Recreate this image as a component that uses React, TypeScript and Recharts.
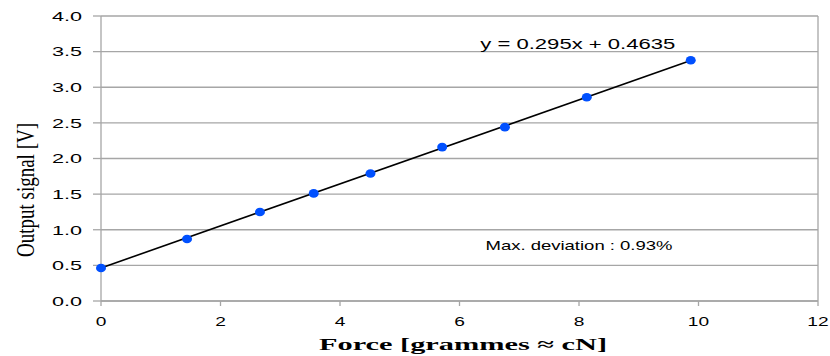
import { ScatterChart, Scatter, XAxis, YAxis, CartesianGrid, ReferenceLine, Label } from "recharts";

// measured force (grammes) and sensor output (V)
const force = [0, 1.44, 2.66, 3.56, 4.51, 5.71, 6.76, 8.13, 9.87];
const output = [0.463, 0.87, 1.25, 1.51, 1.79, 2.16, 2.44, 2.86, 3.38];

const xTicks = [0, 2, 4, 6, 8, 10, 12];
const yTicks = [0, 0.5, 1, 1.5, 2, 2.5, 3, 3.5, 4];

// linear trendline as printed on the chart
const slope = 0.295;
const intercept = 0.4635;

const points = force.map((f, i) => ({ x: f, y: output[i] }));
const xFirst = force[0];
const xLast = force[force.length - 1];

const sans = "Liberation Sans, Arial, sans-serif";
const serif = "Liberation Serif, Times New Roman, serif";

// the source picture is stretched sideways, so text is widened a bit
const WideTick = ({ x, y, payload, anchor, fmt, sx }: any) => (
  <g transform={`translate(${x},${y}) scale(${sx},1)`}>
    <text x={0} y={0} dy={anchor === "end" ? "0.36em" : "0.71em"} textAnchor={anchor} fontFamily={sans} fontSize={13.5} fill="#000">
      {fmt ? fmt(payload.value) : payload.value}
    </text>
  </g>
);

const WideLabel = ({ viewBox, text, width, size }: any) => {
  const cx = viewBox.x + viewBox.width / 2;
  const cy = viewBox.y + viewBox.height / 2;
  return (
    <text x={cx} y={cy} dy="0.35em" textAnchor="middle" textLength={width} lengthAdjust="spacingAndGlyphs" fontFamily={sans} fontSize={size} fill="#000">
      {text}
    </text>
  );
};

export default function App() {
  return (
    <div style={{ position: "absolute", left: 0, top: 0, background: "#fff" }}>
      <ScatterChart width={830} height={356} margin={{ top: 16, right: 12, bottom: 0, left: 0 }}>
        <CartesianGrid vertical={false} stroke="#a6a6a6" strokeWidth={1.3} />
        <XAxis
          type="number"
          dataKey="x"
          domain={[0, 12]}
          ticks={xTicks}
          height={55}
          stroke="#a6a6a6"
          strokeWidth={1.3}
          tickSize={5}
          tickMargin={10}
          tick={<WideTick anchor="middle" sx={1.42} />}
        >
          <Label
            content={() => (
              <text
                x={463}
                y={350}
                textAnchor="middle"
                textLength={288}
                lengthAdjust="spacingAndGlyphs"
                fontFamily={serif}
                fontSize={17}
                fontWeight={700}
                fill="#000"
              >
                Force [grammes ≈ cN]
              </text>
            )}
          />
        </XAxis>
        <YAxis
          type="number"
          dataKey="y"
          domain={[0, 4]}
          ticks={yTicks}
          width={101}
          stroke="#a6a6a6"
          strokeWidth={1.3}
          tickSize={8}
          tickMargin={11}
          tick={<WideTick anchor="end" sx={1.6} fmt={(v: number) => v.toFixed(1)} />}
        >
          <Label
            content={() => (
              <text
                x={0}
                y={0}
                transform="translate(34,190) rotate(-90)"
                textAnchor="middle"
                textLength={134}
                lengthAdjust="spacingAndGlyphs"
                fontFamily={serif}
                fontSize={25}
                fill="#000"
              >
                Output signal [V]
              </text>
            )}
          />
        </YAxis>
        <ReferenceLine x={12} stroke="#a6a6a6" strokeWidth={1.3} />
        <ReferenceLine
          segment={[
            { x: xFirst, y: slope * xFirst + intercept },
            { x: xLast, y: slope * xLast + intercept },
          ]}
          stroke="#000"
          strokeWidth={1.6}
        />
        <Scatter
          data={points}
          fill="#0050ff"
          isAnimationActive={false}
          shape={(p: any) => <ellipse cx={p.cx} cy={p.cy} rx={5} ry={4.3} fill="#0050ff" />}
        />
        <ReferenceLine
          segment={[{ x: 7.9, y: 3.61 }, { x: 8.06, y: 3.61 }]}
          stroke="none"
          label={<WideLabel text={`y = ${slope}x + ${intercept}`} width={195} size={14} />}
        />
        <ReferenceLine
          segment={[{ x: 7.9, y: 0.78 }, { x: 8.1, y: 0.78 }]}
          stroke="none"
          label={<WideLabel text="Max. deviation : 0.93%" width={187} size={13} />}
        />
      </ScatterChart>
    </div>
  );
}
